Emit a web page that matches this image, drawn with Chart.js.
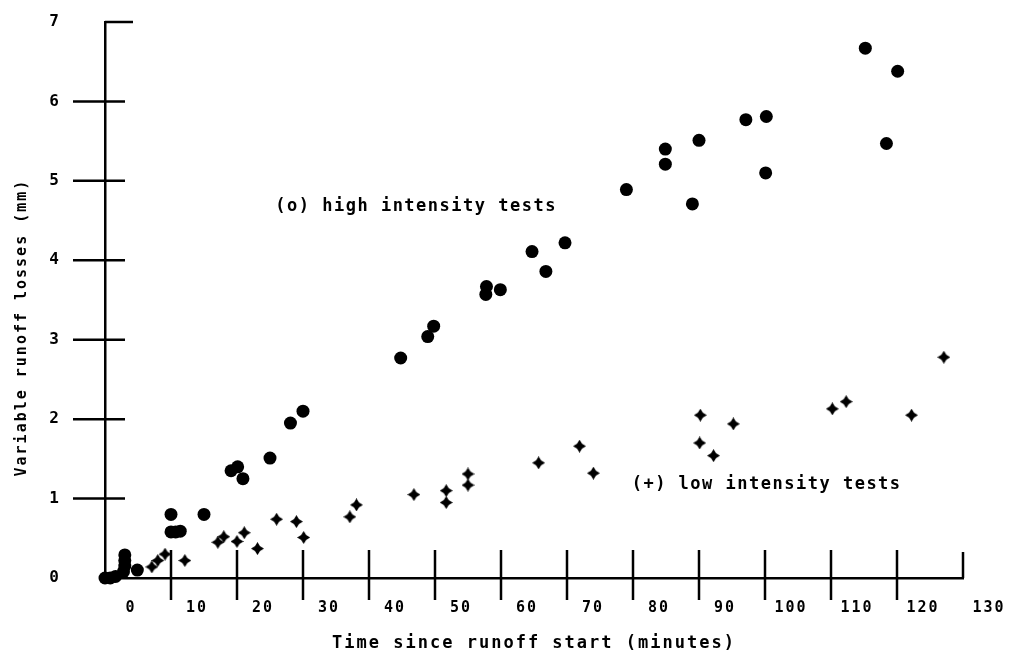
<!DOCTYPE html>
<html>
<head>
<meta charset="utf-8">
<script src="https://cdn.jsdelivr.net/npm/chart.js@4/dist/chart.umd.min.js"></script>
<style>
  html, body { margin: 0; padding: 0; background: #fff; }
  #wrap { width: 1023px; height: 662px; }
</style>
</head>
<body>
<div id="wrap"><canvas id="myChart" width="1023" height="662"></canvas></div>
<script>
// tick labels
const xTickLabels = [0, 10, 20, 30, 40, 50, 60, 70, 80, 90, 100, 110, 120, 130];
const yTickLabels = [0, 1, 2, 3, 4, 5, 6, 7];

// (o) high intensity tests
const highX = [0, 0.8, 1.6, 2.8, 3.0, 3.0, 3.0, 4.9, 10.0, 10.0, 10.7, 11.4, 15.0, 19.1, 20.1, 20.9, 25.0, 28.1, 30.0,
  44.8, 48.9, 49.8, 57.8, 57.7, 59.9, 64.7, 66.8, 69.7, 79.0, 84.9, 84.9, 89.0, 90.0, 97.1, 100.2, 100.1, 115.2, 120.1, 118.4];
const highY = [0, 0, 0.02, 0.08, 0.15, 0.22, 0.29, 0.1, 0.80, 0.58, 0.58, 0.59, 0.80, 1.35, 1.40, 1.25, 1.51, 1.95, 2.10,
  2.77, 3.04, 3.17, 3.67, 3.57, 3.63, 4.11, 3.86, 4.22, 4.89, 5.21, 5.40, 4.71, 5.51, 5.77, 5.81, 5.10, 6.67, 6.38, 5.47];

// (+) low intensity tests
const lowX = [7.1, 8.0, 9.1, 12.1, 17.1, 18.0, 20.0, 21.1, 23.1, 26.0, 29.0, 30.1, 37.1, 38.1, 46.8, 51.7, 51.7, 55.0, 55.0,
  65.7, 71.9, 74.0, 90.2, 90.1, 92.2, 95.2, 110.2, 112.3, 122.2, 127.1];
const lowY = [0.14, 0.22, 0.30, 0.22, 0.45, 0.52, 0.46, 0.57, 0.37, 0.74, 0.71, 0.51, 0.77, 0.92, 1.05, 1.10, 0.95, 1.31, 1.17,
  1.45, 1.66, 1.32, 2.05, 1.70, 1.54, 1.94, 2.13, 2.22, 2.05, 2.78];

const zip = (xs, ys) => xs.map((x, i) => ({ x: x, y: ys[i] }));

// small four point star for the "+" marks
function makeStar(size) {
  const c = document.createElement("canvas");
  c.width = c.height = size;
  const g = c.getContext("2d");
  const m = size / 2;
  g.beginPath();
  for (let i = 0; i < 8; i++) {
    const a = -Math.PI / 2 + (i * Math.PI) / 4;
    const r = i % 2 === 0 ? size / 2 : size * 0.27;
    const px = m + r * Math.cos(a);
    const py = m + r * Math.sin(a);
    if (i === 0) g.moveTo(px, py);
    else g.lineTo(px, py);
  }
  g.closePath();
  g.fillStyle = "#000";
  g.fill();
  return c;
}

const mono = "'DejaVu Sans Mono', monospace";

// tick marks crossing the axes + the two text notes
const axisMarks = {
  id: "axisMarks",
  beforeDraw(chart) {
    chart.ctx.letterSpacing = "2px";
  },
  beforeDatasetsDraw(chart) {
    chart.ctx.letterSpacing = "0px";
  },
  afterDraw(chart) {
    const ctx = chart.ctx;
    const xs = chart.scales.x;
    const ys = chart.scales.y;
    const area = chart.chartArea;
    const xLast = xTickLabels[xTickLabels.length - 1];
    const yLast = yTickLabels[yTickLabels.length - 1];

    ctx.save();
    ctx.strokeStyle = "#000";
    ctx.lineWidth = 2.5;
    xTickLabels.forEach((v) => {
      if (v === 0) return;
      const px = xs.getPixelForValue(v);
      ctx.beginPath();
      if (v === xLast) {
        ctx.moveTo(px, area.bottom - 26);
        ctx.lineTo(px, area.bottom);
      } else {
        ctx.moveTo(px, area.bottom - 28);
        ctx.lineTo(px, area.bottom + 22);
      }
      ctx.stroke();
    });
    yTickLabels.forEach((v) => {
      if (v === 0) return;
      const py = ys.getPixelForValue(v);
      ctx.beginPath();
      if (v === yLast) {
        ctx.moveTo(area.left, py);
        ctx.lineTo(area.left + 28, py);
      } else {
        ctx.moveTo(area.left - 32, py);
        ctx.lineTo(area.left + 20, py);
      }
      ctx.stroke();
    });

    // notes
    ctx.fillStyle = "#000";
    ctx.font = "bold 17px " + mono;
    ctx.letterSpacing = "1.5px";
    ctx.textBaseline = "middle";
    ctx.textAlign = "left";
    ctx.fillText("(o) high intensity tests", xs.getPixelForValue(25.8), ys.getPixelForValue(4.67));
    ctx.fillText("(+) low intensity tests", xs.getPixelForValue(79.8), ys.getPixelForValue(1.17));
    ctx.restore();
  },
};

const ctx = document.getElementById("myChart").getContext("2d");

const config = {
  type: "scatter",
  data: {
    datasets: [
      {
        label: "high intensity tests",
        data: zip(highX, highY),
        pointStyle: "circle",
        pointRadius: 6.5,
        pointBackgroundColor: "#000",
        pointBorderWidth: 0,
        clip: false,
      },
      {
        label: "low intensity tests",
        data: zip(lowX, lowY),
        pointStyle: makeStar(13),
        pointRadius: 6,
        clip: false,
      },
    ],
  },
  options: {
    responsive: false,
    animation: false,
    events: [],
    layout: {
      padding: { left: 0, top: 22, right: 60, bottom: 0 },
    },
    plugins: {
      legend: { display: false },
      tooltip: { enabled: false },
    },
    scales: {
      x: {
        type: "linear",
        min: xTickLabels[0],
        max: xTickLabels[xTickLabels.length - 1],
        afterBuildTicks: (scale) => {
          scale.ticks = xTickLabels.map((v) => ({ value: v }));
        },
        afterFit: (scale) => {
          scale.height = 84;
        },
        // ticks themselves are drawn by axisMarks; tickLength only spaces the labels
        grid: { display: false, drawTicks: true, tickLength: 18 },
        border: { display: true, color: "#000", width: 2.5 },
        ticks: {
          color: "#000",
          padding: 3,
          labelOffset: 26,
          maxRotation: 0,
          font: { family: mono, size: 15, weight: "bold" },
        },
        title: {
          display: true,
          text: "Time since runoff start (minutes)",
          color: "#000",
          font: { family: mono, size: 17, weight: "bold" },
          padding: { top: 4, bottom: 8 },
        },
      },
      y: {
        type: "linear",
        min: yTickLabels[0],
        max: yTickLabels[yTickLabels.length - 1],
        afterBuildTicks: (scale) => {
          scale.ticks = yTickLabels.map((v) => ({ value: v }));
        },
        afterFit: (scale) => {
          scale.width = 105;
        },
        grid: { display: false, drawTicks: true, tickLength: 40 },
        border: { display: true, color: "#000", width: 2.5 },
        ticks: {
          color: "#000",
          padding: 4,
          font: { family: mono, size: 16, weight: "bold" },
        },
        title: {
          display: true,
          text: "Variable runoff losses (mm)     ",
          color: "#000",
          font: { family: mono, size: 15, weight: "bold" },
          padding: { top: 13, bottom: 0 },
        },
      },
    },
  },
  plugins: [axisMarks],
};

const myChart = new Chart(ctx, config);
</script>
</body>
</html>
